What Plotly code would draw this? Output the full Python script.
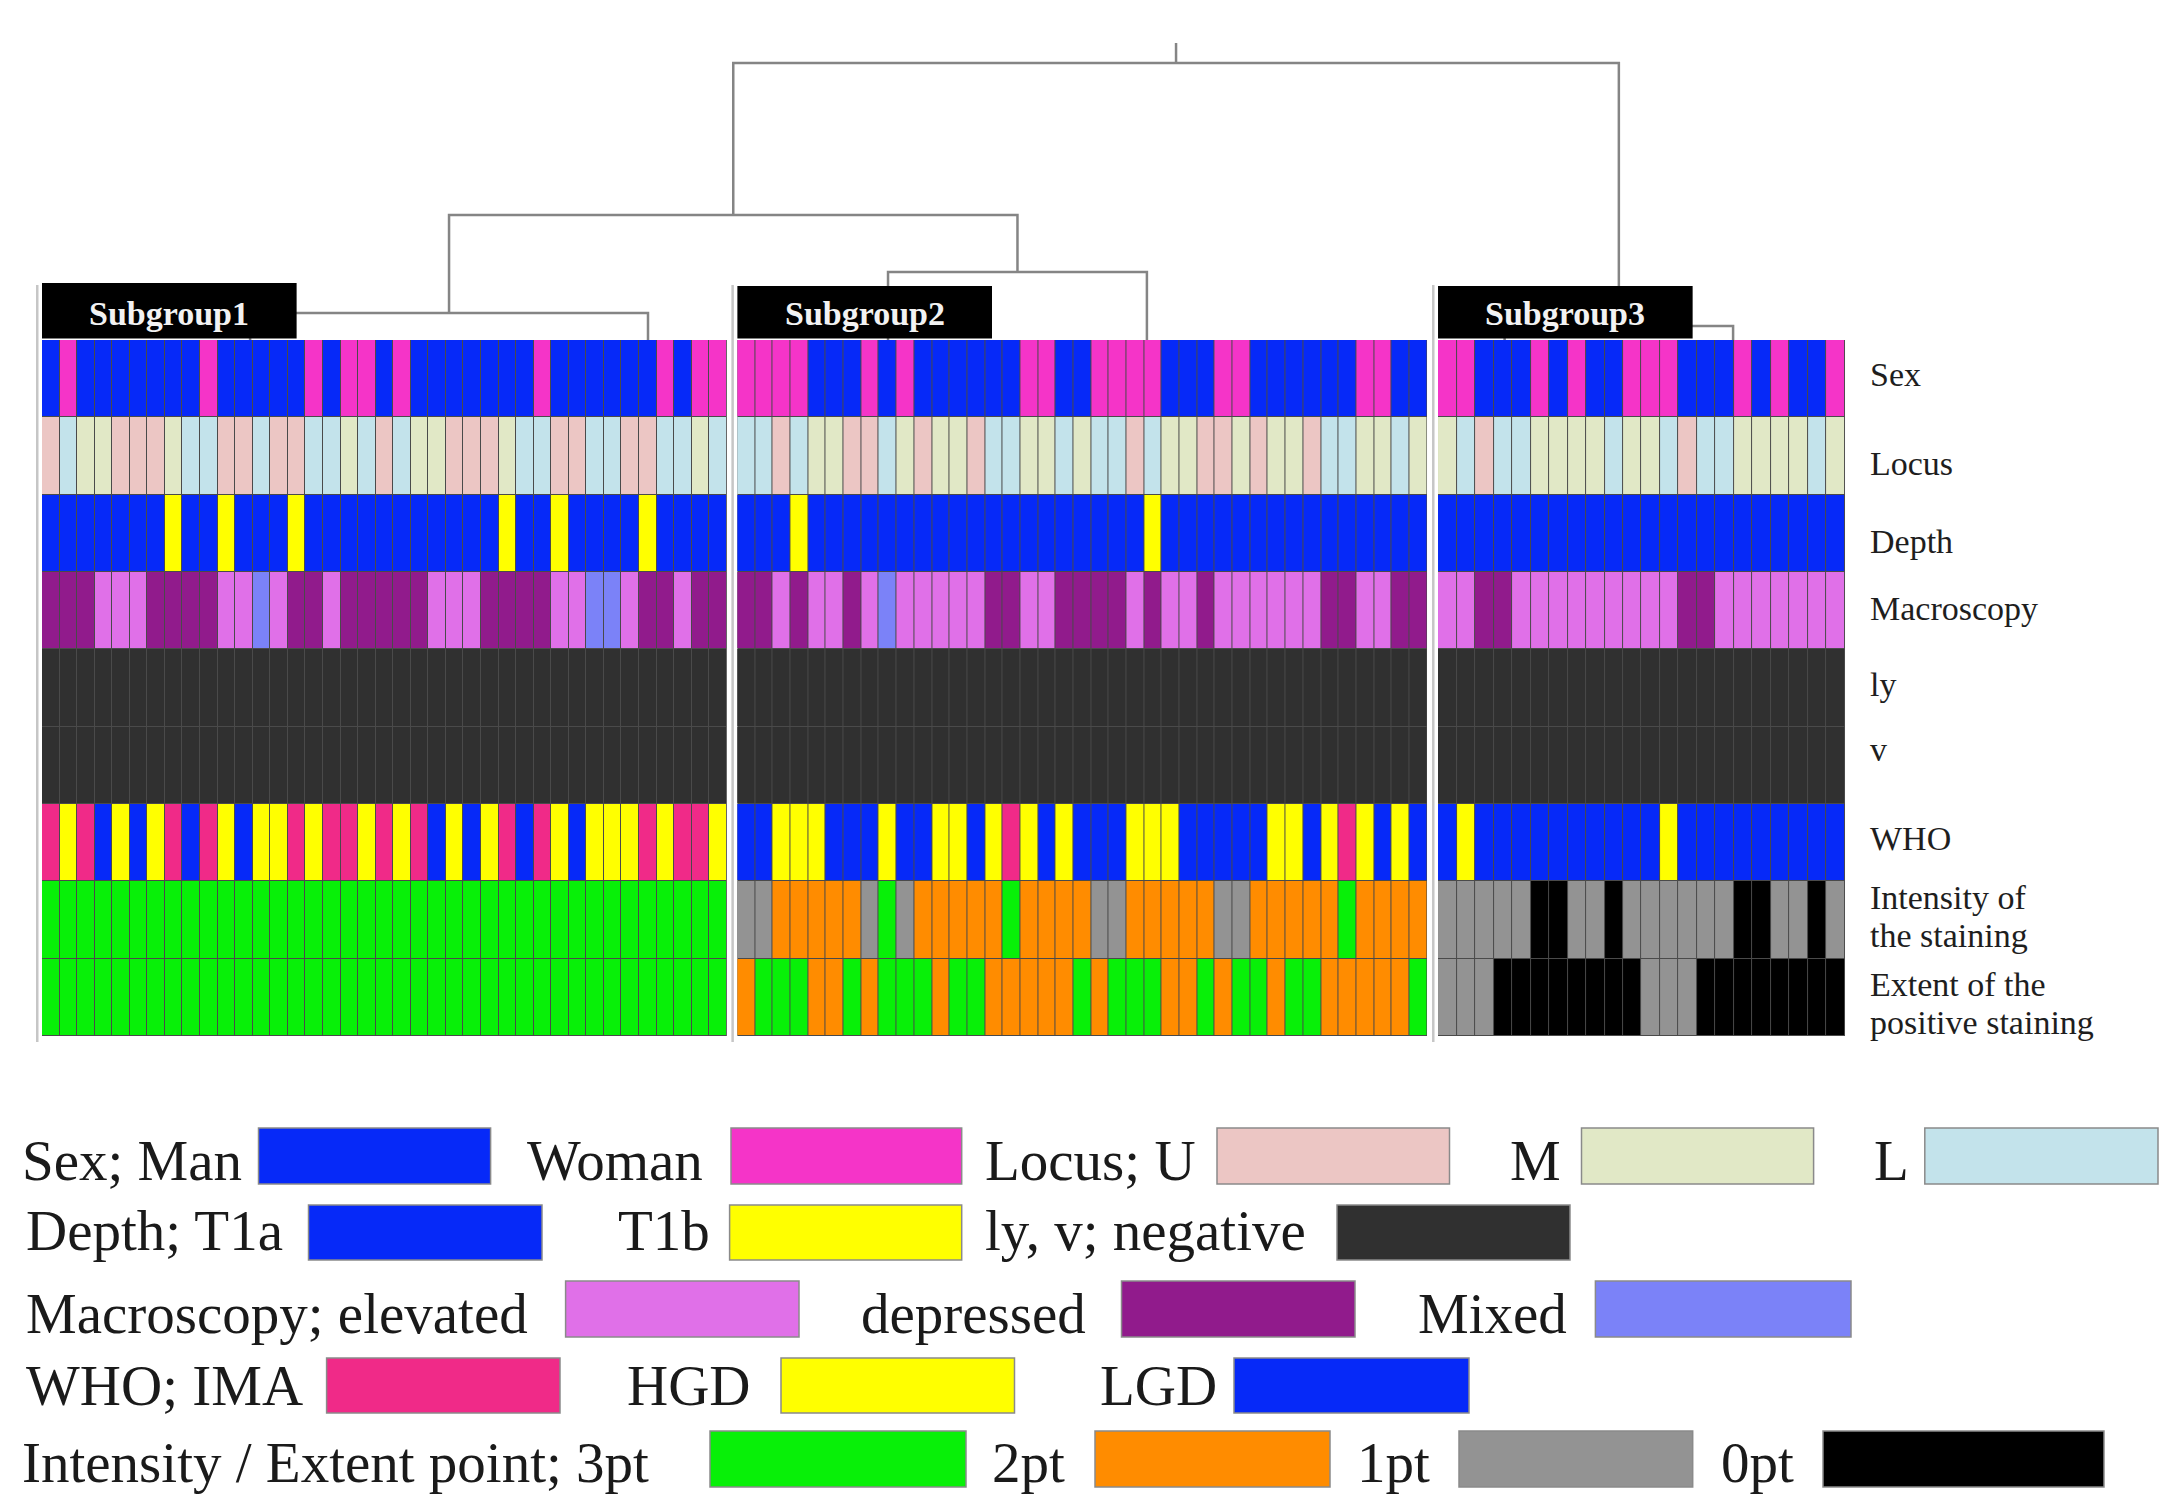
import plotly.graph_objects as go

# ---------------- data ----------------
ROW_LABELS = ["Sex", "Locus", "Depth", "Macroscopy", "ly", "v", "WHO",
              "Intensity of<br>the staining", "Extent of the<br>positive staining"]
SUBGROUPS = ["Subgroup1", "Subgroup2", "Subgroup3"]

CAT_KEYS = ["Man", "Woman", "U", "M", "L", "T1a", "T1b", "negative",
            "elevated", "depressed", "Mixed", "IMA", "HGD", "LGD",
            "3pt", "2pt", "1pt", "0pt"]
CAT_COLORS = ["#0629f8", "#f534c8", "#ecc6c4", "#e1e8c6", "#c3e3eb", "#0629f8", "#ffff00", "#303030",
              "#e070e8", "#911b8c", "#7b82f8", "#f02a88", "#ffff00", "#0629f8",
              "#08f008", "#ff8c00", "#939393", "#000000"]

# code -> category, one decoder per row
ROW_DECODE = [
    {"M": "Man", "W": "Woman"},
    {"U": "U", "M": "M", "L": "L"},
    {"a": "T1a", "b": "T1b"},
    {"E": "elevated", "D": "depressed", "X": "Mixed"},
    {"N": "negative"},
    {"N": "negative"},
    {"I": "IMA", "H": "HGD", "L": "LGD"},
    {"3": "3pt", "2": "2pt", "1": "1pt", "0": "0pt"},
    {"3": "3pt", "2": "2pt", "1": "1pt", "0": "0pt"},
]

# Subgroup 1 (39 cases)
S1_SEX = list("MWMMMMMMMWMMMMMWMWWMWMMMMMMMWMMMMMMWMWW")
S1_LOCUS = list("ULMMUUUMLLUULUULLMLULMMUUUMLLUULLUULLML")
S1_DEPTH = list("aaaaaaabaabaaabaaaaaaaaaaabaabaaaabaaaa")
S1_MACRO = list("DDDEEEDDDDEEXEDDEDDDDDEEEDDDDEEXXEDDEDD")
S1_LY = list("NNNNNNNNNNNNNNNNNNNNNNNNNNNNNNNNNNNNNNN")
S1_V = list("NNNNNNNNNNNNNNNNNNNNNNNNNNNNNNNNNNNNNNN")
S1_WHO = list("IHILHLHILIHLHHIHIIHIHILHLHILIHLHHHIHIIH")
S1_INT = list("333333333333333333333333333333333333333")
S1_EXT = list("333333333333333333333333333333333333333")

# Subgroup 2 (39 cases)
S2_SEX = list("WWWWMMMWMWMMMMMMWWMMWWWWMMMWWMMMMMMWWMM")
S2_LOCUS = list("LLULMMUULMUMMULLMMLMLLULMMUUMUMMULLMMLM")
S2_DEPTH = list("aaabaaaaaaaaaaaaaaaaaaabaaaaaaaaaaaaaaa")
S2_MACRO = list("DDEDEEDEXEEEEEDDEEDDDDEDEEDEEEEEEDDEEDD")
S2_LY = list("NNNNNNNNNNNNNNNNNNNNNNNNNNNNNNNNNNNNNNN")
S2_V = list("NNNNNNNNNNNNNNNNNNNNNNNNNNNNNNNNNNNNNNN")
S2_WHO = list("LLHHHLLLHLLHHLHIHLHLLLHHHLLLLLHHLHIHLHL")
S2_INT = list("112222213122222322221122222112222232222")
S2_EXT = list("233322323332332222232333223233233222223")

# Subgroup 3 (22 cases)
S3_SEX = list("WWMMMWMWMMWWWMMMWMWMMW")
S3_LOCUS = list("MLULLMMMMLMMLULLMMMMLM")
S3_DEPTH = list("aaaaaaaaaaaaaaaaaaaaaa")
S3_MACRO = list("EEDDEEEEEEEEEDDEEEEEEE")
S3_LY = list("NNNNNNNNNNNNNNNNNNNNNN")
S3_V = list("NNNNNNNNNNNNNNNNNNNNNN")
S3_WHO = list("LHLLLLLLLLLLHLLLLLLLLL")
S3_INT = list("1111100110111111001101")
S3_EXT = list("1110000000011100000000")

GROUP_ROWS = [
    [S1_SEX, S1_LOCUS, S1_DEPTH, S1_MACRO, S1_LY, S1_V, S1_WHO, S1_INT, S1_EXT],
    [S2_SEX, S2_LOCUS, S2_DEPTH, S2_MACRO, S2_LY, S2_V, S2_WHO, S2_INT, S2_EXT],
    [S3_SEX, S3_LOCUS, S3_DEPTH, S3_MACRO, S3_LY, S3_V, S3_WHO, S3_INT, S3_EXT],
]

# dendrogram: leaf clusters (subgroup, column position inside subgroup), merges (left, right, height)
DENDRO_LEAVES = {"a": (0, 11.85), "b": (0, 34.51), "c": (1, 8.52), "d": (1, 23.16),
                 "e": (2, 3.6), "f": (2, 15.95)}
DENDRO_MERGES = [("a", "b", 27), ("c", "d", 68), ("e", "f", 14),
                 ("ab", "cd", 125), ("abcd", "ef", 277)]
DENDRO_ROOT_TOP = 297

LEGEND_ROWS = [
    [("Sex; Man", "Man"), ("Woman", "Woman"), ("Locus; U", "U"), ("M", "M"), ("L", "L")],
    [("Depth; T1a", "T1a"), ("T1b", "T1b"), ("ly, v; negative", "negative")],
    [("Macroscopy; elevated", "elevated"), ("depressed", "depressed"), ("Mixed", "Mixed")],
    [("WHO; IMA", "IMA"), ("HGD", "HGD"), ("LGD", "LGD")],
    [("Intensity / Extent point; 3pt", "3pt"), ("2pt", "2pt"), ("1pt", "1pt"), ("0pt", "0pt")],
]

# ---------------- layout constants (pixels) ----------------
W, H = 2179, 1507
PX0 = 42.0          # left edge of subgroup 1
UNIT = 17.56        # pixels per column unit
SUB_LEFT = [0.0, 39.6, 79.5]
SUB_DX = [1.0, 1.007, 1.0535]
HM_TOP, HM_BOT = 340.0, 1036.0
BOX_W = 14.5
BOX_TOP = [57, 54, 54]
FONT = "Liberation Serif"

LEGEND_POS = [
    [(19.5, 258.5, 490.6), (525, 731, 961.7), (982.5, 1217, 1449.5), (1508, 1581.5, 1813.6), (1872, 1924.8, 2158)],
    [(23.6, 308.5, 542), (615.6, 729.6, 961.7), (982.5, 1337, 1570)],
    [(23.6, 565.6, 799), (858.8, 1121.5, 1355), (1416, 1595.4, 1851)],
    [(23.6, 326.6, 560), (625.4, 781, 1014.5), (1098, 1234, 1469)],
    [(19.5, 710, 966), (989.5, 1095, 1330), (1355, 1459, 1692.7), (1719, 1823, 2104)],
]
LEGEND_ROW_Y = [(1128, 1184, 1160), (1205, 1260, 1230), (1281, 1337, 1313),
                (1358, 1413, 1385), (1431, 1487, 1462)]
LABEL_Y = [[374], [464], [541], [608], [684], [749], [838], [898, 935], [984, 1022]]
LABEL_X = 1868


def px_x(p):
    return p / W


def px_y(p):
    return 1 - p / H


idx = {k: i for i, k in enumerate(CAT_KEYS)}
N = len(CAT_KEYS)
colorscale = []
for i, c in enumerate(CAT_COLORS):
    colorscale.append([i / N, c])
    colorscale.append([(i + 1) / N, c])

fig = go.Figure()
shapes = []
annotations = []

for g, rows in enumerate(GROUP_ROWS):
    z = [[idx[ROW_DECODE[r][c]] for c in row] for r, row in enumerate(rows)]
    n = len(rows[0])
    fig.add_trace(go.Heatmap(
        z=z, x0=SUB_LEFT[g] + SUB_DX[g] / 2, dx=SUB_DX[g], y0=0, dy=1,
        colorscale=colorscale, zmin=-0.5, zmax=N - 0.5, showscale=False,
        xgap=1, ygap=1, hoverinfo="skip", xaxis="x", yaxis="y"))
    # dark base under the cells (gives the thin cell separators)
    shapes.append(dict(type="rect", xref="x", yref="y", x0=SUB_LEFT[g], x1=SUB_LEFT[g] + n * SUB_DX[g],
                       y0=-0.5, y1=8.5, fillcolor="#4a4a4a", line=dict(width=0), layer="below"))
    # light separator line at left of each block
    xl = SUB_LEFT[g] - 0.27
    shapes.append(dict(type="line", xref="x", yref="paper", x0=xl, x1=xl,
                       y0=px_y(285), y1=px_y(1042), line=dict(color="#c6c6c6", width=2.5)))
    # black subgroup box
    shapes.append(dict(type="rect", xref="x", yref="y2", x0=SUB_LEFT[g], x1=SUB_LEFT[g] + BOX_W,
                       y0=1.5, y1=BOX_TOP[g], fillcolor="#000000", line=dict(width=0)))
    annotations.append(dict(xref="x", yref="y2", x=SUB_LEFT[g] + BOX_W / 2, y=27,
                            text="<b>" + SUBGROUPS[g] + "</b>", showarrow=False,
                            xanchor="center", yanchor="middle",
                            font=dict(family=FONT, size=34, color="#f2f2f2")))

# dendrogram
node_x, node_h = {}, {}
for name, (g, col) in DENDRO_LEAVES.items():
    node_x[name] = SUB_LEFT[g] + col * SUB_DX[g]
    node_h[name] = 0
lx, ly = [], []
last = None
for left, right, h in DENDRO_MERGES:
    xa, xb = node_x[left], node_x[right]
    lx += [xa, xa, xb, xb, None]
    ly += [node_h[left], h, h, node_h[right], None]
    last = left + right
    node_x[last] = (xa + xb) / 2
    node_h[last] = h
lx += [node_x[last], node_x[last]]
ly += [node_h[last], DENDRO_ROOT_TOP]
fig.add_trace(go.Scatter(x=lx, y=ly, mode="lines", xaxis="x", yaxis="y2",
                         line=dict(color="#858585", width=2.5), hoverinfo="skip",
                         showlegend=False, cliponaxis=False))

# row labels
for label, ys in zip(ROW_LABELS, LABEL_Y):
    lines = label.split("<br>")
    for txt, yy in zip(lines, ys):
        annotations.append(dict(xref="paper", yref="paper", x=px_x(LABEL_X), y=px_y(yy),
                                text=txt, showarrow=False, xanchor="left", yanchor="middle",
                                font=dict(family=FONT, size=34, color="#1e1e1e")))

# legend
for items, pos, (by0, by1, ty) in zip(LEGEND_ROWS, LEGEND_POS, LEGEND_ROW_Y):
    for (txt, key), (tx, bx0, bx1) in zip(items, pos):
        annotations.append(dict(xref="paper", yref="paper", x=px_x(tx), y=px_y(ty),
                                text=txt, showarrow=False, xanchor="left", yanchor="middle",
                                font=dict(family=FONT, size=57, color="#1a1a1a")))
        shapes.append(dict(type="rect", xref="paper", yref="paper",
                           x0=px_x(bx0), x1=px_x(bx1), y0=px_y(by1), y1=px_y(by0),
                           fillcolor=CAT_COLORS[idx[key]], line=dict(color="#8a8a8a", width=1.5)))

fig.update_layout(
    width=W, height=H, margin=dict(l=0, r=0, t=0, b=0),
    paper_bgcolor="white", plot_bgcolor="white", showlegend=False,
    xaxis=dict(domain=[0, 1], range=[-PX0 / UNIT, (W - PX0) / UNIT], visible=False,
               fixedrange=True, anchor="y"),
    yaxis=dict(domain=[px_y(HM_BOT), px_y(HM_TOP)], range=[8.5, -0.5], visible=False,
               fixedrange=True, anchor="x"),
    yaxis2=dict(domain=[px_y(HM_TOP), 1], range=[0, HM_TOP], visible=False,
                fixedrange=True, anchor="x"),
    shapes=shapes, annotations=annotations,
)

fig.write_html("out.html", config={"displayModeBar": False},
               post_script="document.body.style.margin='0';document.body.style.overflow='hidden';")
